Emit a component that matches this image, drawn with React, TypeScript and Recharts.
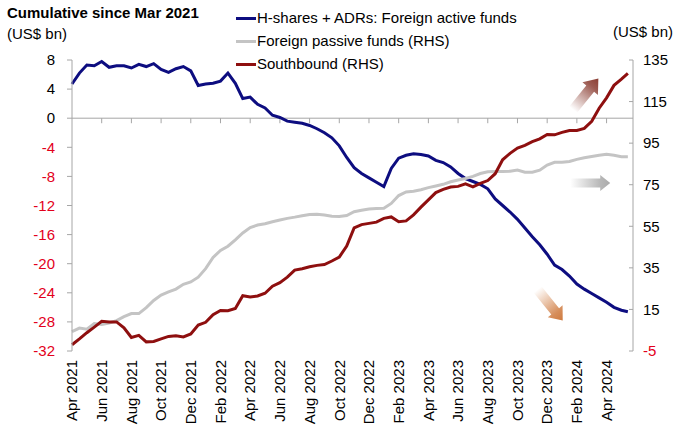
import React from "react";
import { LineChart, Line, XAxis, YAxis, ReferenceLine, ReferenceDot } from "recharts";

// Semi-monthly observations, cumulative flows since Mar 2021 (US$ bn)
const dates = [
  "2021-04-01", "2021-04-16", "2021-05-01", "2021-05-16", "2021-06-01", "2021-06-16",
  "2021-07-01", "2021-07-16", "2021-08-01", "2021-08-16", "2021-09-01", "2021-09-16",
  "2021-10-01", "2021-10-16", "2021-11-01", "2021-11-16", "2021-12-01", "2021-12-16",
  "2022-01-01", "2022-01-16", "2022-02-01", "2022-02-16", "2022-03-01", "2022-03-16",
  "2022-04-01", "2022-04-16", "2022-05-01", "2022-05-16", "2022-06-01", "2022-06-16",
  "2022-07-01", "2022-07-16", "2022-08-01", "2022-08-16", "2022-09-01", "2022-09-16",
  "2022-10-01", "2022-10-16", "2022-11-01", "2022-11-16", "2022-12-01", "2022-12-16",
  "2023-01-01", "2023-01-16", "2023-02-01", "2023-02-16", "2023-03-01", "2023-03-16",
  "2023-04-01", "2023-04-16", "2023-05-01", "2023-05-16", "2023-06-01", "2023-06-16",
  "2023-07-01", "2023-07-16", "2023-08-01", "2023-08-16", "2023-09-01", "2023-09-16",
  "2023-10-01", "2023-10-16", "2023-11-01", "2023-11-16", "2023-12-01", "2023-12-16",
  "2024-01-01", "2024-01-16", "2024-02-01", "2024-02-16", "2024-03-01", "2024-03-16",
  "2024-04-01", "2024-04-16", "2024-05-01", "2024-05-14",
];

// H-shares + ADRs: foreign active funds (LHS)
const activeFunds = [
  4.7, 6.2, 7.3, 7.2, 7.8, 7.0, 7.2, 7.2, 6.9, 7.4, 7.1, 7.5, 6.7, 6.3, 6.8, 7.1, 6.5, 4.5,
  4.7, 4.8, 5.1, 6.2, 4.8, 2.7, 2.9, 1.9, 1.4, 0.4, 0.1, -0.4, -0.55, -0.7, -1.0, -1.45, -2.0, -2.7,
  -3.8, -5.4, -6.8, -7.6, -8.2, -8.8,
  -9.4, -6.9, -5.5, -5.1, -4.9, -5.0, -5.2, -5.8, -6.1, -6.7, -7.6, -8.3, -8.7, -9.1, -9.7, -11.1,
  -12.0, -12.9, -13.9, -15.1, -16.3, -17.4, -18.7, -20.2,
  -20.8, -21.7, -22.8, -23.5, -24.1, -24.7, -25.3, -26.0, -26.4, -26.6,
];

// Foreign passive funds (RHS)
const passiveFunds = [
  4.3, 6.0, 5.5, 8.2, 7.8, 8.5, 9.6, 11.5, 13.0, 13.0, 15.9, 19.3, 21.9, 23.4, 24.8, 27.1, 28.2, 30.5,
  34.6, 40.0, 43.4, 45.4, 48.5, 51.8, 54.4, 55.6, 56.2, 57.2, 58.0, 58.8, 59.4, 60.1, 60.7, 60.8, 60.4, 59.8,
  59.7, 60.2, 62.0, 62.7, 63.3, 63.5,
  63.7, 66.0, 69.8, 71.5, 71.9, 72.6, 73.6, 74.4, 75.2, 76.4, 77.3, 78.0, 79.0, 80.4, 81.2, 81.3,
  81.3, 81.5, 82.1, 81.0, 81.0, 82.0, 84.5, 85.8,
  85.8, 86.2, 87.2, 88.0, 88.6, 89.2, 89.6, 89.2, 88.5, 88.5,
];

// Southbound (RHS)
const southbound = [
  -2.0, 0.8, 3.8, 6.5, 9.3, 9.0, 9.0, 6.2, 1.5, 2.5, -0.6, -0.4, 0.8, 2.0, 2.3, 1.8, 3.2, 7.5,
  8.8, 12.5, 14.5, 14.4, 15.5, 21.6, 21.0, 21.5, 22.8, 26.2, 27.9, 30.5, 33.9, 34.6, 35.5, 36.2, 36.6, 38.3,
  40.2, 45.5, 54.2, 55.8, 56.4, 57.0,
  58.8, 59.5, 57.2, 57.6, 60.5, 64.2, 67.7, 71.2, 72.8, 73.9, 74.2, 75.4, 74.0, 75.6, 77.0, 80.3,
  87.0, 90.1, 92.6, 93.9, 95.7, 97.1, 99.2, 99.0,
  100.2, 101.1, 101.1, 102.1, 105.5, 111.8, 116.8, 122.8, 125.8, 128.6,
];

const tickLabels = [
  "Apr 2021", "Jun 2021", "Aug 2021", "Oct 2021", "Dec 2021", "Feb 2022", "Apr 2022",
  "Jun 2022", "Aug 2022", "Oct 2022", "Dec 2022", "Feb 2023", "Apr 2023", "Jun 2023",
  "Aug 2023", "Oct 2023", "Dec 2023", "Feb 2024", "Apr 2024",
];
const leftTicks = [8, 4, 0, -4, -8, -12, -16, -20, -24, -28, -32];
const rightTicks = [135, 115, 95, 75, 55, 35, 15, -5];

const FONT = "'Liberation Sans', Arial, sans-serif";
const BLUE = "#0d0d80";
const GREY = "#c4c4c4";
const RED = "#8e0f0f";
const NEG = "#e3001b";
const AXIS = "#a6a6a6";

// months since 1 Apr 2021
const monthIndex = (d: string) => {
  const [y, m, day] = d.split("-").map(Number);
  return (y - 2021) * 12 + (m - 4) + (day - 1) / 30;
};

const data = dates.map((d, i) => ({
  t: monthIndex(d),
  active: activeFunds[i],
  passive: passiveFunds[i],
  south: southbound[i],
}));

const monthTicks = tickLabels.map((_, i) => i * 2);

// decorative trend arrows, anchored in chart coordinates (right axis)
const arrows = [
  { id: "arUp", t: 34.6, value: 118.6, angle: -51, color: "#8b3e33", shaft: 10, head: 20, headLen: 13 },
  { id: "arFlat", t: 34.9, value: 75.8, angle: 0, color: "#ababab", shaft: 9, head: 16, headLen: 10 },
  { id: "arDown", t: 32.2, value: 17.1, angle: 51, color: "#cf7a3e", shaft: 10, head: 19, headLen: 12 },
];

function Arrow(props: any) {
  const { cx, cy, angle, color, shaft, head, headLen, id } = props;
  const h = 20;
  const d = `M ${-h} ${-shaft / 2} L ${h - headLen} ${-shaft / 2} L ${h - headLen} ${-head / 2} L ${h} 0 L ${h - headLen} ${head / 2} L ${h - headLen} ${shaft / 2} L ${-h} ${shaft / 2} Z`;
  return (
    <g transform={`translate(${cx},${cy}) rotate(${angle})`}>
      <defs>
        <linearGradient id={id} gradientUnits="userSpaceOnUse" x1={-h} y1={0} x2={h} y2={0}>
          <stop offset="0" stopColor={color} stopOpacity={0} />
          <stop offset="0.75" stopColor={color} stopOpacity={0.85} />
          <stop offset="1" stopColor={color} stopOpacity={1} />
        </linearGradient>
      </defs>
      <path d={d} fill={`url(#${id})`} />
    </g>
  );
}

const ValueTick = (props: any) => {
  const { x, y, payload, textAnchor } = props;
  return (
    <text x={x} y={y} dy="0.35em" textAnchor={textAnchor} fill={payload.value < 0 ? NEG : "#000"} fontSize={15} fontFamily={FONT}>
      {payload.value}
    </text>
  );
};

const MonthTick = (props: any) => {
  const { x, y, payload } = props;
  return (
    <text x={x} y={y} dy="0.35em" transform={`rotate(-90, ${x}, ${y})`} textAnchor="end" fill="#000" fontSize={15} fontFamily={FONT}>
      {tickLabels[Math.round(payload.value / 2)]}
    </text>
  );
};

const legendItems = [
  { label: "H-shares + ADRs: Foreign active funds", color: BLUE, top: 9 },
  { label: "Foreign passive funds (RHS)", color: GREY, top: 32 },
  { label: "Southbound (RHS)", color: RED, top: 55 },
];

const textStyle: React.CSSProperties = { position: "absolute", fontFamily: FONT, fontSize: 15, color: "#000", whiteSpace: "nowrap", lineHeight: "18px" };

export default function App() {
  return (
    <div style={{ position: "absolute", left: 0, top: 0, width: 700, height: 430, background: "#fff" }}>
      <LineChart width={700} height={430} data={data} margin={{ top: 60, right: 0, bottom: 0, left: 0 }}>
        <XAxis
          dataKey="t"
          type="number"
          domain={[0, 37.78]}
          ticks={monthTicks}
          interval={0}
          height={79}
          axisLine={false}
          tickLine={false}
          tickSize={0}
          tickMargin={9}
          tick={<MonthTick />}
        />
        <YAxis
          yAxisId="left"
          domain={[-32, 8]}
          ticks={leftTicks}
          interval={0}
          width={72}
          stroke={AXIS}
          tickSize={5}
          tickMargin={12}
          tick={<ValueTick />}
        />
        <YAxis
          yAxisId="right"
          orientation="right"
          domain={[-5, 135]}
          ticks={rightTicks}
          interval={0}
          width={67}
          stroke={AXIS}
          tickSize={-4}
          tickMargin={14}
          tick={<ValueTick />}
        />
        <ReferenceLine yAxisId="left" y={0} stroke={AXIS} strokeWidth={1} />
        {monthTicks.slice(1).map((m) => (
          <ReferenceLine
            key={m}
            yAxisId="left"
            segment={[{ x: m, y: 0 }, { x: m, y: -0.69 }]}
            stroke={AXIS}
            strokeWidth={1}
          />
        ))}
        {arrows.map((a) => (
          <ReferenceDot
            key={a.id}
            yAxisId="right"
            x={a.t}
            y={a.value}
            r={0}
            shape={(p: any) => <Arrow {...a} cx={p.cx} cy={p.cy} />}
          />
        ))}
        <Line yAxisId="left" dataKey="active" stroke={BLUE} strokeWidth={3} dot={false} type="linear" isAnimationActive={false} />
        <Line yAxisId="right" dataKey="passive" stroke={GREY} strokeWidth={3} dot={false} type="linear" isAnimationActive={false} />
        <Line yAxisId="right" dataKey="south" stroke={RED} strokeWidth={3} dot={false} type="linear" isAnimationActive={false} />
      </LineChart>

      <div style={{ ...textStyle, left: 7, top: 4, fontWeight: "bold" }}>Cumulative since Mar 2021</div>
      <div style={{ ...textStyle, left: 7, top: 25 }}>(US$ bn)</div>
      <div style={{ ...textStyle, left: 613, top: 23 }}>(US$ bn)</div>
      {legendItems.map((it) => (
        <div key={it.label} style={{ ...textStyle, left: 236, top: it.top, display: "flex", alignItems: "center" }}>
          <span style={{ display: "inline-block", width: 20, height: 3, background: it.color, marginRight: 1 }} />
          <span>{it.label}</span>
        </div>
      ))}
    </div>
  );
}
